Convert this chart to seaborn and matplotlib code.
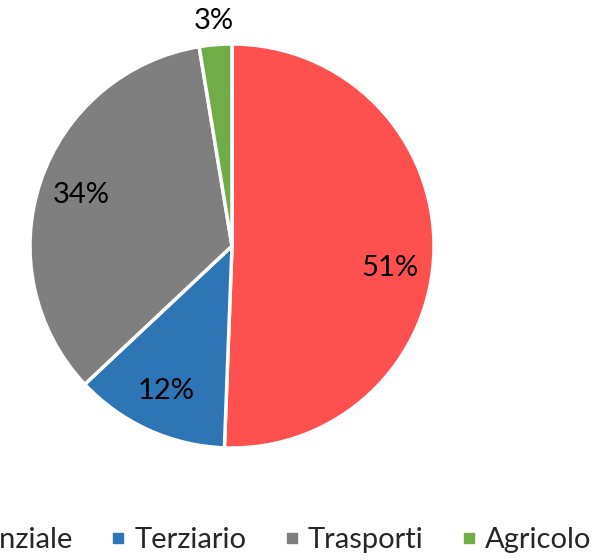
import matplotlib
matplotlib.use("Agg")

import numpy as np
import seaborn as sns
import matplotlib.pyplot as plt
from matplotlib.lines import Line2D


# =========================
# 1. Data
# =========================

sectors = ["Residenziale", "Terziario", "Trasporti", "Agricolo"]
shares = [50.6, 12.4, 34.4, 2.6]
colors = ["#FF5050", "#2E75B6", "#7F7F7F", "#70AD47"]


# =========================
# 2. Style
# =========================

sns.set_theme(style="white")
plt.rcParams["font.family"] = ["Lato", "DejaVu Sans"]


# =========================
# 3. Pie chart
# =========================

fig = plt.figure(figsize=(6.01, 5.6), dpi=100)
ax = fig.add_axes([30 / 601, 1 - 448 / 560, 404 / 601, 404 / 560])

wedges, texts, autotexts = ax.pie(
    shares,
    colors=colors,
    startangle=90,
    counterclock=False,
    autopct="%.0f%%",
    pctdistance=0.79,
    wedgeprops={"edgecolor": "white", "linewidth": 2.5},
    textprops={"fontsize": 21, "color": "black"},
)

# big slice label sits a bit lower (Excel best fit)
x0, y0 = autotexts[0].get_position()
r0 = np.hypot(x0, y0)
a0 = np.arctan2(y0, x0) - np.radians(7)
autotexts[0].set_position((r0 * np.cos(a0), r0 * np.sin(a0)))

# small slice label sits outside
autotexts[-1].set_position(
    [c * 1.12 / 0.79 for c in autotexts[-1].get_position()]
)
for t in autotexts:
    t.set_clip_on(False)

ax.set_xlim(-1, 1)
ax.set_ylim(-1, 1)
ax.set_aspect("equal")
ax.axis("off")


# =========================
# 4. Legend (left part cut off, as in the source)
# =========================

handles = [
    Line2D([0], [0], marker="s", linestyle="none", markersize=7.5,
           markerfacecolor=c, markeredgecolor=c)
    for c in colors
]

fig.legend(
    handles,
    sectors,
    loc="center right",
    bbox_to_anchor=(591 / 601, 1 - 540 / 560),
    ncol=4,
    frameon=False,
    fontsize=21,
    borderpad=0,
    borderaxespad=0,
    handlelength=0.5,
    handletextpad=0.3,
    columnspacing=1.3,
)

fig.savefig("out.png", dpi=100)
